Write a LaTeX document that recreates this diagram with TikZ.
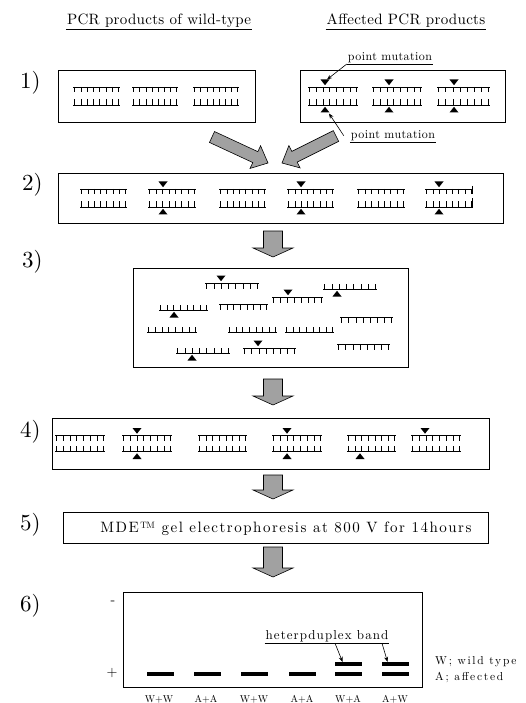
\documentclass[tikz,border=0pt]{standalone}
\usepackage{fontspec}
\setmainfont{lmroman10-regular.otf}
\usetikzlibrary{calc,arrows.meta}

\newcommand\lsp[1]{\addfontfeature{LetterSpace=#1}}
\newcommand\fs[1]{\fontsize{#1}{#1}\selectfont}

% single strands: backbone line with eight bases
\newcommand\topstrand[3]{%
  \draw[strand] ({#1},{#3}) -- ({#2},{#3});
  \foreach \k in {0,...,7}{\draw[strand] ({#1+1.5+\k*(#2-#1-3)/7},{#3}) -- ++(0,5.5);}}
\newcommand\botstrand[3]{%
  \draw[strand] ({#1},{#3}) -- ({#2},{#3});
  \foreach \k in {0,...,7}{\draw[strand] ({#1+1.5+\k*(#2-#1-3)/7},{#3}) -- ++(0,-5.5);}}
\newcommand\duplex[4]{\topstrand{#1}{#2}{#3}\botstrand{#1}{#2}{#3+#4}}
% mutation markers above / below a backbone
\newcommand\mutdown[2]{\fill ({#1},{#2-1.8}) -- ++(-4.5,-5.7) -- ++(9,0) -- cycle;}
\newcommand\mutup[2]{\fill ({#1},{#2+1.8}) -- ++(-4.5,5.7) -- ++(9,0) -- cycle;}
% wide outlined arrow: tail, tip, half shaft width, half head width, head length
\newcommand\fatarrow[5]{%
  \coordinate (fa-base) at ($(#2)!#5!(#1)$);
  \draw[blockarrow] ($(#1)!#3!90:(#2)$) -- ($(fa-base)!#3!90:(#2)$) -- ($(fa-base)!#4!90:(#2)$)
    -- (#2) -- ($(fa-base)!#4!-90:(#2)$) -- ($(fa-base)!#3!-90:(#2)$) -- ($(#1)!#3!-90:(#2)$) -- cycle;}

\tikzset{
  frame/.style={draw, line width=0.9pt, inner sep=0pt, anchor=north west},
  stepno/.style={font=\fs{23}, inner sep=0pt, anchor=north west},
  heading/.style={font=\fs{15}\lsp{2}, inner sep=1pt, anchor=base},
  pmlabel/.style={font=\fs{12}\lsp{3.5}, inner sep=1pt, anchor=base},
  strand/.style={line width=0.5pt},
  pointer/.style={line width=0.6pt, -{Stealth[length=5pt,width=4pt]}},
  blockarrow/.style={draw, line width=0.6pt, fill=black!37, line join=miter},
  band/.style={fill=black, inner sep=0pt, minimum width=27pt, minimum height=4pt},
  lane/.style={font=\fs{10}, inner sep=0pt, anchor=base},
  keytext/.style={font=\fs{11.5}\lsp{15}, inner sep=0pt, anchor=base west},
}

\begin{document}
\begin{tikzpicture}[x=1pt,y=-1pt]
\useasboundingbox (0,0) rectangle (525,703);

% column headings
\node[heading] (hw) at (159,25) {PCR products of wild-type};
\node[heading] (ha) at (406,25) {Affected PCR products};
\draw[line width=0.6pt] (hw.south west) -- (hw.south east);
\draw[line width=0.6pt] (ha.south west) -- (ha.south east);

% step numbers
\node[stepno] (n1) at (20,71) {1)};
\node[stepno] (n2) at (22,173) {2)};
\node[stepno] (n3) at (22,250) {3)};
\node[stepno] (n4) at (20,420) {4)};
\node[stepno] (n5) at (20,513) {5)};
\node[stepno] (n6) at (20,594) {6)};

% frames
\node[frame, minimum width=197pt, minimum height=52pt] (b1w) at (58,70) {};
\node[frame, minimum width=205pt, minimum height=52pt] (b1a) at (300,70) {};
\node[frame, minimum width=445pt, minimum height=50pt] (b2) at (58,173) {};
\node[frame, minimum width=275pt, minimum height=99pt] (b3) at (133,268) {};
\node[frame, minimum width=437pt, minimum height=51pt] (b4) at (52,418) {};
\node[frame, minimum width=425pt, minimum height=31pt] (b5) at (63,512) {};
\node[frame, minimum width=299pt, minimum height=95pt] (gel) at (123,592) {};

% 1) wild-type and affected duplexes
\duplex{73}{120}{87}{18}
\duplex{132}{178}{87}{18}
\duplex{193}{239}{87}{18}
\duplex{308}{358}{87}{18} \mutdown{325}{87} \mutup{325}{105}
\duplex{372}{422}{87}{18} \mutdown{389}{87} \mutup{389}{105}
\duplex{437}{490}{87}{18} \mutdown{454}{87} \mutup{454}{105}

% point mutation callouts
\node[pmlabel] (pm1) at (390,60.5) {point mutation};
\draw[line width=0.6pt] (pm1.south west) -- (pm1.south east);
\coordinate (m1) at (327,79.5);
\draw[pointer] (pm1.south west) -- (m1);
\node[pmlabel] (pm2) at (393,138.5) {point mutation};
\draw[line width=0.6pt] (pm2.south west) -- (pm2.south east);
\coordinate (m2) at (329,113.5);
\draw[pointer] ([xshift=-6pt]pm2.west) -- (m2);

% 2) mixed duplexes
\duplex{80}{127}{189}{18}
\duplex{148}{196}{189}{18} \mutdown{163}{189} \mutup{163}{207}
\duplex{219}{266}{189}{18}
\duplex{287}{334}{189}{18} \mutdown{301}{189} \mutup{301}{207}
\duplex{357}{405}{189}{18}
\duplex{425}{473}{189}{18} \mutdown{439}{189} \mutup{439}{207}
\draw[strand] (472,186) -- (472,194.5);
\draw[strand] (472,207) -- (472,198);

% 3) denatured single strands
\topstrand{205}{259}{283} \mutdown{221}{283}
\botstrand{323}{377}{289} \mutup{337}{289}
\topstrand{272}{323}{297} \mutdown{288}{297}
\botstrand{159}{208}{310} \mutup{174}{310}
\topstrand{219}{268}{304}
\topstrand{340}{393}{317}
\botstrand{147}{197}{332}
\botstrand{228}{277}{332}
\botstrand{285}{334}{332}
\botstrand{176}{230}{353} \mutup{192}{353}
\topstrand{243}{296}{348} \mutdown{258}{348}
\topstrand{337}{390}{344}

% 4) reannealed duplexes
\duplex{55}{105}{435.5}{16}
\duplex{122}{172}{435.5}{16} \mutdown{137}{435.5} \mutup{137}{451.5}
\duplex{198}{247}{435.5}{16}
\duplex{272}{322}{435.5}{16} \mutdown{287}{435.5} \mutup{287}{451.5}
\duplex{347}{396}{435.5}{16} \mutup{360}{451.5}
\duplex{411}{461}{435.5}{16} \mutdown{425}{435.5}

% 5) electrophoresis
\node[font=\fs{15}\lsp{10}, inner sep=0pt, anchor=base] (t5) at (286,532.5)
  {MDE\texttrademark{} gel electrophoresis at 800 V for 14hours};

% 6) gel
\node[font=\fs{14}, inner sep=0pt] (minus) at (113,603) {-};
\node[font=\fs{14}, inner sep=0pt] (plus) at (112,673) {+};
\node[band] (l1) at (160,673.5) {};
\node[band] (l2) at (207,673.5) {};
\node[band] (l3) at (254.5,673.5) {};
\node[band] (l4) at (302,673.5) {};
\node[band] (l5) at (348.5,673.5) {};
\node[band] (l6) at (395.5,673.5) {};
\node[band] (u5) at (348.5,664) {};
\node[band] (u6) at (395.5,664) {};
\node[lane] (w1) at (159,702) {W+W};
\node[lane] (w2) at (206,702) {A+A};
\node[lane] (w3) at (254,702) {W+W};
\node[lane] (w4) at (302,702) {A+A};
\node[lane] (w5) at (348,702) {W+A};
\node[lane] (w6) at (395,702) {A+W};
\node[font=\fs{13}\lsp{8}, inner sep=1pt, anchor=base] (hd) at (327,639.5) {heterpduplex band};
\draw[line width=0.6pt] (hd.south west) -- (hd.south east);
\draw[pointer] (335,0 |- hd.south) -- ([xshift=-6pt]u5.north);
\draw[pointer] (382,0 |- hd.south) -- ([xshift=-8pt]u6.north);
\node[keytext] (kw) at (435,664) {W; wild type};
\node[keytext] (ka) at (435,680.5) {A; affected};

% wide arrows between steps
\coordinate (d1t) at (212,137); \coordinate (d1h) at (268,163);
\coordinate (d2t) at (336,136); \coordinate (d2h) at (282,163);
\fatarrow{d1t}{d1h}{6pt}{12.5pt}{14pt}
\fatarrow{d2t}{d2h}{6pt}{12.5pt}{14pt}
\coordinate (v2t) at (273,231); \coordinate (v2h) at (273,257);
\coordinate (v3t) at (273,379); \coordinate (v3h) at (273,405);
\coordinate (v4t) at (273,475); \coordinate (v4h) at (273,499);
\coordinate (v5t) at (273,547); \coordinate (v5h) at (273,577);
\fatarrow{v2t}{v2h}{9.5pt}{20pt}{9pt}
\fatarrow{v3t}{v3h}{9.5pt}{20pt}{9pt}
\fatarrow{v4t}{v4h}{9.5pt}{20pt}{9pt}
\fatarrow{v5t}{v5h}{9.5pt}{20pt}{9pt}
\end{tikzpicture}
\end{document}
